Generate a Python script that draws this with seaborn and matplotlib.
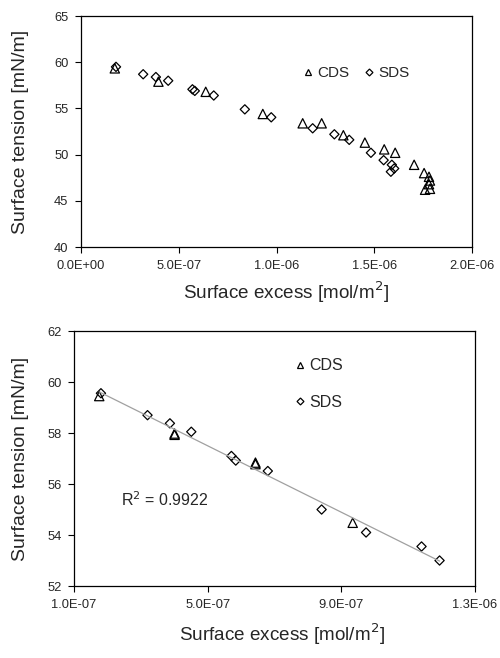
import numpy as np
import matplotlib
matplotlib.use("Agg")
import matplotlib.pyplot as plt
from matplotlib.lines import Line2D
from matplotlib.ticker import FuncFormatter
import seaborn as sns

sns.set_style("white")
plt.rcParams['font.family'] = ['Liberation Sans', 'DejaVu Sans']

# top panel: full range
cds_x = [1.73e-7, 3.96e-7, 6.38e-7, 9.30e-7, 1.134e-6, 1.231e-6, 1.342e-6, 1.452e-6,
         1.551e-6, 1.607e-6, 1.704e-6, 1.755e-6, 1.78e-6, 1.785e-6, 1.78e-6, 1.785e-6, 1.76e-6]
cds_y = [59.34, 57.9, 56.8, 54.4, 53.39, 53.39, 52.1, 51.3,
         50.57, 50.2, 48.9, 48.0, 47.6, 47.2, 46.8, 46.3, 46.2]
sds_x = [1.79e-7, 3.18e-7, 3.83e-7, 4.46e-7, 5.70e-7, 5.82e-7, 6.79e-7, 8.38e-7, 9.73e-7,
         1.185e-6, 1.296e-6, 1.372e-6, 1.483e-6, 1.548e-6, 1.590e-6, 1.602e-6, 1.585e-6]
sds_y = [59.5, 58.7, 58.4, 58.0, 57.07, 56.9, 56.4, 54.9, 54.04,
         52.85, 52.2, 51.6, 50.2, 49.4, 48.9, 48.5, 48.15]

# bottom panel: low surface excess region
cds2_x = [1.755e-7, 4.01e-7, 4.01e-7, 6.43e-7, 6.43e-7, 9.34e-7]
cds2_y = [59.45, 57.98, 57.93, 56.84, 56.78, 54.48]
sds2_x = [1.806e-7, 3.2e-7, 3.87e-7, 4.51e-7, 5.71e-7, 5.84e-7, 6.80e-7,
          8.41e-7, 9.74e-7, 1.14e-6, 1.194e-6]
sds2_y = [59.56, 58.7, 58.38, 58.05, 57.1, 56.92, 56.51,
          55.0, 54.1, 53.55, 53.0]
r2_text = "R$^2$ = 0.9922"

fig = plt.figure(figsize=(5, 6.58), dpi=100)
ax1 = fig.add_axes([0.162, 0.6246, 0.782, 0.351])
ax2 = fig.add_axes([0.148, 0.1094, 0.802, 0.3875])

mk = dict(facecolor='none', edgecolor='black', linewidth=0.9)

sns.scatterplot(x=cds_x, y=cds_y, marker='^', s=45, ax=ax1, **mk)
sns.scatterplot(x=sds_x, y=sds_y, marker='D', s=22, ax=ax1, **mk)

all_x = np.array(cds2_x + sds2_x)
all_y = np.array(cds2_y + sds2_y)
sns.regplot(x=all_x, y=all_y, scatter=False, ci=None, truncate=True, ax=ax2,
            line_kws=dict(color='#a0a0a0', linewidth=0.9))
sns.scatterplot(x=cds2_x, y=cds2_y, marker='^', s=45, ax=ax2, **mk)
sns.scatterplot(x=sds2_x, y=sds2_y, marker='D', s=22, ax=ax2, **mk)

def sci(v, pos):
    return "%.1E" % v

ax1.set_xlim(0, 2e-6)
ax1.set_ylim(40, 65)
ax1.set_xticks([0, 5e-7, 1e-6, 1.5e-6, 2e-6])
ax1.set_yticks([40, 45, 50, 55, 60, 65])
ax2.set_xlim(1e-7, 1.3e-6)
ax2.set_ylim(52, 62)
ax2.set_xticks([1e-7, 5e-7, 9e-7, 1.3e-6])
ax2.set_yticks([52, 54, 56, 58, 60, 62])

for ax in (ax1, ax2):
    ax.xaxis.set_major_formatter(FuncFormatter(sci))
    ax.tick_params(axis='both', labelsize=9.3, length=4, width=0.8, color='black',
                   direction='out', bottom=True, left=True, pad=5)
    for sp in ax.spines.values():
        sp.set_color('black')
        sp.set_linewidth(0.9)
    ax.set_xlabel("Surface excess [mol/m$^2$]", fontsize=13.6)
    ax.set_ylabel("Surface tension [mN/m]", fontsize=14)

ax1.xaxis.set_label_coords(0.524, -0.14)
ax1.yaxis.set_label_coords(-0.133, 0.5)
ax2.xaxis.set_label_coords(0.519, -0.141)
ax2.yaxis.set_label_coords(-0.112, 0.5)

h_cds = Line2D([], [], marker='^', linestyle='', mfc='none', mec='black', markersize=5, mew=0.9)
h_sds = Line2D([], [], marker='D', linestyle='', mfc='none', mec='black', markersize=3.5, mew=0.9)

ax1.legend([h_cds, h_sds], ["CDS", "SDS"], ncol=2, frameon=False, fontsize=11,
           loc='center left', bbox_to_anchor=(0.525, 0.752), handletextpad=0.1,
           columnspacing=0.8, handlelength=1.0)
ax2.legend([h_cds, h_sds], ["CDS", "SDS"], ncol=1, frameon=False, fontsize=11.5,
           loc='upper left', bbox_to_anchor=(0.508, 0.95), handletextpad=0.1,
           labelspacing=1.35, handlelength=1.0)

ax2.text(2.4e-7, 55.37, r2_text, fontsize=11.5, va='center', ha='left')

fig.savefig("out.png", dpi=100)
